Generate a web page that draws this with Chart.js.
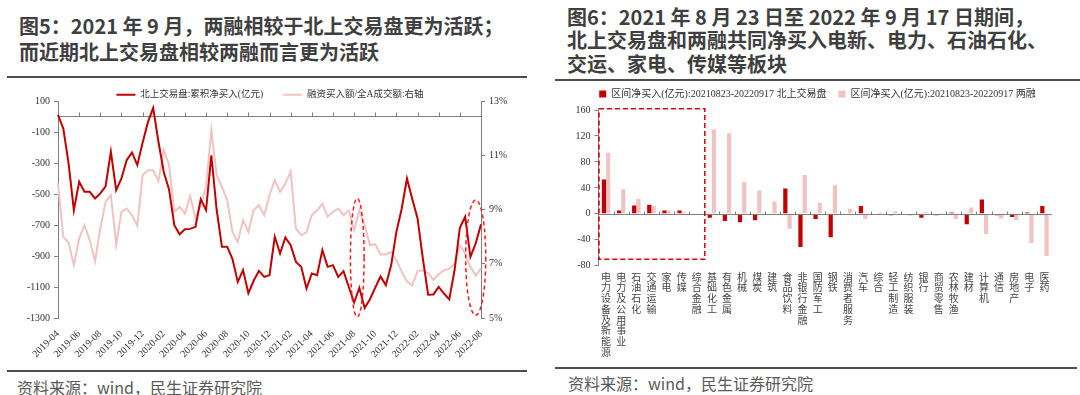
<!DOCTYPE html>
<html>
<head>
<meta charset="utf-8">
<script src="https://cdn.jsdelivr.net/npm/chart.js@4.4.0/dist/chart.umd.min.js"></script>
<style>
body{margin:0;width:1080px;height:395px;background:#fff;position:relative;overflow:hidden;font-family:'Noto Sans CJK SC',sans-serif;}
.t{position:absolute;font-weight:bold;font-size:20px;color:#3f3f3f;white-space:nowrap;}
.rule{position:absolute;height:2px;background:#4d4d4d;}
.src{position:absolute;font-size:16px;line-height:20px;color:#595959;white-space:nowrap;}
canvas{position:absolute;}
</style>
</head>
<body>
<div class="t" style="left:19px;top:13px;line-height:26px;">图5：2021 年 9 月，两融相较于北上交易盘更为活跃；<br>而近期北上交易盘相较两融而言更为活跃</div>
<div class="rule" style="left:7px;top:76px;width:520px;"></div>
<div class="t" style="left:567px;top:5px;line-height:23.3px;">图6：2021 年 8 月 23 日至 2022 年 9 月 17 日期间，<br>北上交易盘和两融共同净买入电新、电力、石油石化、<br>交运、家电、传媒等板块</div>
<div class="rule" style="left:555px;top:79px;width:525px;"></div>

<canvas id="c1" width="540" height="300" style="left:0;top:70px;"></canvas>
<canvas id="c2" width="525" height="289" style="left:555px;top:77px;"></canvas>

<div class="rule" style="left:7px;top:370px;width:520px;"></div>
<div class="src" style="left:17px;top:377px;">资料来源：wind，民生证券研究院</div>
<div class="rule" style="left:555px;top:367px;width:522px;"></div>
<div class="src" style="left:568px;top:373px;">资料来源：wind，民生证券研究院</div>

<script>
// 图5：半月频，2019-04 起
const tickLabels = ['2019-04','2019-06','2019-08','2019-10','2019-12','2020-02','2020-04','2020-06','2020-08','2020-10','2020-12',
  '2021-02','2021-04','2021-06','2021-08','2021-10','2021-12','2022-02','2022-04','2022-06','2022-08'];
const periods = [];
for (let i = 0; i <= 80; i++) {
  const m = 3 + Math.floor(i / 2);
  periods.push((2019 + Math.floor(m / 12)) + '-' + String(m % 12 + 1).padStart(2, '0') + (i % 2 ? '-16' : '-01'));
}
// 北上交易盘:累积净买入(亿元)
const northCum = [10,-77,-302,-604,-421,-486,-486,-529,-496,-450,
  -227,-475,-400,-281,-232,-313,-169,-38,55,-163,
  -358,-470,-701,-760,-727,-725,-712,-533,-604,-250,
  -600,-841,-841,-920,-1067,-991,-1140,-1060,-996,-1035,
  -1024,-776,-884,-780,-830,-938,-970,-1110,-1013,-1024,
  -862,-970,-959,-1035,-998,-1100,-1200,-1106,-1235,-1179,
  -1104,-1032,-1088,-960,-744,-595,-400,-533,-658,-916,
  -1150,-1148,-1099,-1142,-1180,-992,-718,-647,-905,-819,
  -696];
// 融资买入额/全A成交额(%)，右轴
const marginRatio = [9.96,7.99,7.78,6.95,7.93,8.42,7.87,7.1,8.30,9.28,
  9.53,7.7,8.91,9.03,8.79,8.4,10.27,10.45,10.45,10.04,
  11.2,10.63,8.91,9.10,8.85,9.50,8.67,9.16,9.83,11.93,
  10.27,9.83,9.34,8.17,7.80,8.6,8.17,8.97,9.16,8.79,
  9.53,10.08,9.65,9.96,10.4,8.30,8.05,8.17,8.79,8.97,
  9.22,8.73,8.91,9.03,8.79,8.97,8.23,8.97,8.42,7.68,
  7.72,7.34,7.34,7.43,7.13,6.72,6.35,6.20,6.72,6.76,
  6.66,6.41,6.61,6.76,6.82,7.00,7.68,7.37,6.88,6.57,
  6.82];
// 红色虚线圈（x 为期数下标，y 为左轴数值）
const circled = [{from:55.3,to:57.9,top:-528,bottom:-1293},{from:77.1,to:80.9,top:-539,bottom:-1282}];

// 图6：行业区间净买入(亿元)
const sectors = ['电力设备及新能源','电力及公用事业','石油石化','交通运输','家电','传媒','综合金融','基础化工','有色金属','机械',
  '煤炭','建筑','食品饮料','非银行金融','国防军工','钢铁','消费者服务','汽车','综合','轻工制造',
  '纺织服装','银行','商贸零售','农林牧渔','建材','计算机','通信','房地产','电子','医药'];
const northNet = [53,5,13,14,5,5,0,-6,-11,-13,-10,0,39,-51,-8,-36,0,12,0,-2,0,-6,-2,2,-16,22,-2,-5,2,12];
const marginNet = [94,38,23,12,5,3,1.5,130,124,49,36,19,-23,60,17,44,8,-8,2,4,-3,3,0.5,-8,10,-31,-7,-10,-45,-65];
const boxed = {from:-0.5,to:6.5,top:162,bottom:-70};

const RED = '#C00000', PINK = '#F0C3C3', AXIS = '#7f7f7f', TXT = '#333';
const serif = "'Liberation Serif','Noto Sans CJK SC',serif";

// 固定图例高度；full 时图例在整个画布宽度内居中
const legendBox = (h, full) => ({
  id: 'legendBox',
  afterInit(chart) {
    const lg = chart.legend;
    const fit = lg.fit;
    lg.fit = function () { fit.call(this); this.height = h; };
  },
  afterLayout(chart) {
    if (!full) return;
    chart.legend.left = 0;
    chart.legend.right = chart.width;
    chart.legend.width = chart.width;
  }
});

const zeroLine1 = {
  id: 'zeroLine1',
  beforeDatasetsDraw(chart) {
    const {ctx, chartArea: a, scales: {x, y}} = chart;
    const yy = Math.round(y.getPixelForValue(0)) + 0.5;
    ctx.save();
    ctx.strokeStyle = AXIS;
    ctx.lineWidth = 1;
    ctx.beginPath();
    ctx.moveTo(a.left, yy);
    ctx.lineTo(a.right, yy);
    for (let i = 0; i < periods.length; i += 4) {
      const xx = Math.round(x.getPixelForValue(i)) + 0.5;
      ctx.moveTo(xx, yy);
      ctx.lineTo(xx, yy - 4);
    }
    ctx.stroke();
    ctx.restore();
  }
};

const zeroLine2 = {
  id: 'zeroLine2',
  afterDatasetsDraw(chart) {
    const {ctx, chartArea: a, scales: {x, y}} = chart;
    const yy = Math.round(y.getPixelForValue(0)) + 0.5;
    ctx.save();
    ctx.strokeStyle = AXIS;
    ctx.lineWidth = 1;
    ctx.beginPath();
    ctx.moveTo(a.left, yy);
    ctx.lineTo(a.right, yy);
    for (let i = 1; i < sectors.length; i++) {
      const xx = Math.round(x.getPixelForValue(i - 0.5)) + 0.5;
      ctx.moveTo(xx, yy);
      ctx.lineTo(xx, yy - 3);
    }
    ctx.stroke();
    ctx.restore();
  }
};

const ellipses = {
  id: 'ellipses',
  afterDatasetsDraw(chart) {
    const {ctx, scales: {x, y}} = chart;
    ctx.save();
    ctx.strokeStyle = '#FF1A1A';
    ctx.lineWidth = 1.5;
    ctx.setLineDash([4, 3]);
    circled.forEach(c => {
      const x1 = x.getPixelForValue(c.from), x2 = x.getPixelForValue(c.to);
      const y1 = y.getPixelForValue(c.top), y2 = y.getPixelForValue(c.bottom);
      ctx.beginPath();
      ctx.ellipse((x1 + x2) / 2, (y1 + y2) / 2, (x2 - x1) / 2, (y2 - y1) / 2, 0, 0, Math.PI * 2);
      ctx.stroke();
    });
    ctx.restore();
  }
};

const boxPlugin = {
  id: 'boxPlugin',
  afterDatasetsDraw(chart) {
    const {ctx, scales: {x, y}} = chart;
    const x1 = x.getPixelForValue(boxed.from), x2 = x.getPixelForValue(boxed.to);
    const y1 = y.getPixelForValue(boxed.top), y2 = y.getPixelForValue(boxed.bottom);
    ctx.save();
    ctx.strokeStyle = '#D80000';
    ctx.lineWidth = 1.5;
    ctx.setLineDash([5, 3]);
    ctx.strokeRect(x1 + 0.5, y1, x2 - x1, y2 - y1);
    ctx.restore();
  }
};

new Chart(document.getElementById('c1'), {
  type: 'line',
  data: {
    labels: periods,
    datasets: [
      {label: '北上交易盘:累积净买入(亿元)', data: northCum, borderColor: RED, backgroundColor: RED, borderWidth: 2, pointRadius: 0, yAxisID: 'y', tension: 0},
      {label: '融资买入额/全A成交额:右轴', data: marginRatio, borderColor: PINK, backgroundColor: PINK, borderWidth: 2, pointRadius: 0, yAxisID: 'y2', tension: 0}
    ]
  },
  plugins: [legendBox(31, false), zeroLine1, ellipses],
  options: {
    responsive: false,
    animation: false,
    layout: {padding: {top: 0, left: 0, right: 0, bottom: 0}},
    plugins: {
      legend: {
        position: 'top',
        labels: {usePointStyle: true, pointStyle: 'line', pointStyleWidth: 19, boxHeight: 10, padding: 20, color: TXT, font: {family: serif, size: 9.5}}
      },
      tooltip: {enabled: false}
    },
    scales: {
      x: {
        type: 'category', offset: false,
        grid: {display: false}, border: {display: false},
        ticks: {autoSkip: false, maxRotation: 45, minRotation: 45, padding: 2, color: TXT, font: {family: serif, size: 10},
          callback: (v, i) => i % 4 === 0 ? tickLabels[i / 4] : ''},
        afterFit: s => { s.height = 52; }
      },
      y: {
        position: 'left', min: -1300, max: 100,
        ticks: {stepSize: 200, color: TXT, padding: 4, font: {family: serif, size: 10}, callback: v => String(v)},
        grid: {drawOnChartArea: false, tickLength: 4, color: AXIS},
        border: {color: AXIS},
        afterFit: s => { s.width = 58; }
      },
      y2: {
        position: 'right', min: 5, max: 13,
        ticks: {stepSize: 2, color: TXT, padding: 4, font: {family: serif, size: 10}, callback: v => v + '%'},
        grid: {drawOnChartArea: false, tickLength: 4, color: AXIS},
        border: {color: AXIS},
        afterFit: s => { s.width = 59; }
      }
    }
  }
});

new Chart(document.getElementById('c2'), {
  type: 'bar',
  data: {
    labels: sectors.map(s => s.split('')),
    datasets: [
      {label: '区间净买入(亿元):20210823-20220917 北上交易盘', data: northNet, backgroundColor: RED},
      {label: '区间净买入(亿元):20210823-20220917 两融', data: marginNet, backgroundColor: PINK}
    ]
  },
  plugins: [legendBox(33, true), zeroLine2, boxPlugin],
  options: {
    responsive: false,
    animation: false,
    datasets: {bar: {barPercentage: 1, categoryPercentage: 0.56}},
    layout: {padding: {top: 0, left: 0, right: 28, bottom: 0}},
    plugins: {
      legend: {
        position: 'top',
        labels: {boxWidth: 7, boxHeight: 7, padding: 12, color: TXT, font: {family: serif, size: 10}}
      },
      tooltip: {enabled: false}
    },
    scales: {
      x: {
        grid: {display: false, drawTicks: false}, border: {display: false},
        ticks: {autoSkip: false, maxRotation: 0, minRotation: 0, padding: 7, color: '#444', font: {family: serif, size: 10, lineHeight: 1.07}},
        afterFit: s => { s.height = 100.2; }
      },
      y: {
        min: -80, max: 160,
        ticks: {stepSize: 40, color: TXT, padding: 4, font: {family: serif, size: 10}, callback: v => String(v)},
        grid: {drawOnChartArea: false, tickColor: AXIS, color: AXIS, tickLength: 4},
        border: {color: AXIS},
        afterFit: s => { s.width = 43.5; }
      }
    }
  }
});
</script>
</body>
</html>
